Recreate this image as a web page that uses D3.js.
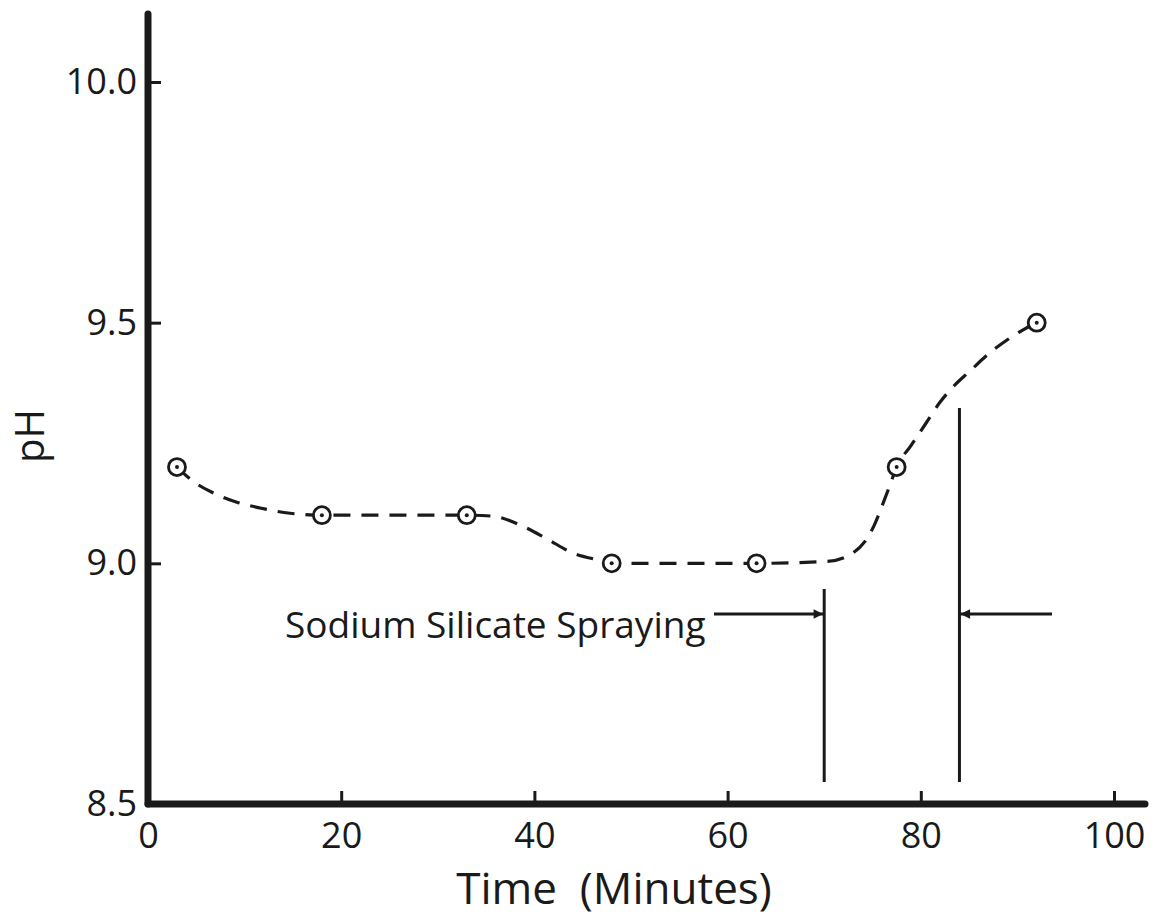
<!DOCTYPE html>
<html>
<head>
<meta charset="utf-8">
<title>pH vs Time</title>
<script src="https://d3js.org/d3.v7.min.js"></script>
<style>
  body { margin: 0; background: #fff; }
  svg text { font-family: "Open Sans", "Liberation Sans", sans-serif; fill: #1a1a1a; }
</style>
</head>
<body>
<script>
// measured readings (minutes, pH)
const times = [3, 18, 33, 48, 63, 77.5, 92];
const phValues = [9.2, 9.1, 9.1, 9.0, 9.0, 9.2, 9.5];
// hand-drawn dashed curve
const curveTimes = [3, 4.7, 6.7, 9.2, 11.6, 14.7, 18, 25, 33, 35.7, 38.7, 41.3, 43.9, 46.8, 48, 55, 63, 70.3, 73, 74.2, 75.2, 76.1, 76.8, 77.5, 79, 80.5, 82, 83.5, 85, 87, 89, 90.5, 92];
const curvePh = [9.2, 9.17, 9.147, 9.127, 9.115, 9.104, 9.1, 9.1, 9.1, 9.098, 9.078, 9.051, 9.022, 9.006, 9.0, 9.0, 9.0, 9.004, 9.022, 9.045, 9.08, 9.125, 9.162, 9.2, 9.245, 9.29, 9.335, 9.37, 9.398, 9.435, 9.465, 9.484, 9.5];
const xTicks = [0, 20, 40, 60, 80, 100];
const yTicks = [8.5, 9.0, 9.5, 10.0];
// spraying period
const sprayStart = 70;
const sprayEnd = 84;
const sprayLabel = "Sodium Silicate Spraying";

const width = 1157, height = 918;
const ink = "#1a1a1a";

const svg = d3.select("body").append("svg")
    .attr("width", width)
    .attr("height", height);

const x = d3.scaleLinear().domain([0, 100]).range([148, 1114]);
const y = d3.scaleLinear().domain([8.5, 10]).range([804, 82]);

// axes, ticks pointing inward
const xAxis = svg.append("g")
    .attr("transform", `translate(0,${y(8.5)})`)
    .call(d3.axisBottom(x).tickValues(xTicks).tickSize(-13).tickPadding(18).tickFormat(d3.format("d")));
xAxis.select(".domain").remove();
xAxis.selectAll(".tick line").attr("stroke", ink).attr("stroke-width", 3);
xAxis.selectAll(".tick text").attr("font-size", 36).attr("fill", ink);
xAxis.selectAll(".tick").filter(d => d === 0).select("line").remove();

const yAxis = svg.append("g")
    .attr("transform", `translate(${x(0)},0)`)
    .call(d3.axisLeft(y).tickValues(yTicks).tickSize(-13).tickPadding(11).tickFormat(d3.format(".1f")));
yAxis.select(".domain").remove();
yAxis.selectAll(".tick line").attr("stroke", ink).attr("stroke-width", 3);
yAxis.selectAll(".tick text").attr("font-size", 36).attr("fill", ink);
yAxis.selectAll(".tick").filter(d => d === 8.5).select("line").remove();

// heavy axis lines
svg.append("line")
    .attr("x1", x(0)).attr("x2", x(0))
    .attr("y1", 14).attr("y2", y(8.5))
    .attr("stroke", ink).attr("stroke-width", 7).attr("stroke-linecap", "round");
svg.append("line")
    .attr("x1", x(0)).attr("x2", 1145)
    .attr("y1", y(8.5)).attr("y2", y(8.5))
    .attr("stroke", ink).attr("stroke-width", 7).attr("stroke-linecap", "round");

// axis titles
svg.append("text")
    .attr("x", 614).attr("y", 904)
    .attr("text-anchor", "middle")
    .attr("font-size", 44)
    .attr("xml:space", "preserve")
    .text("Time  (Minutes)");

svg.append("text")
    .attr("transform", "translate(44,436) rotate(-90)")
    .attr("text-anchor", "middle")
    .attr("font-size", 40)
    .text("pH");

// dashed curve
const line = d3.line()
    .x(d => x(d[0]))
    .y(d => y(d[1]))
    .curve(d3.curveMonotoneX);

svg.append("path")
    .datum(curveTimes.map((t, i) => [t, curvePh[i]]))
    .attr("d", line)
    .attr("fill", "none")
    .attr("stroke", ink)
    .attr("stroke-width", 3.2)
    .attr("stroke-dasharray", "17 11");

// circled-dot markers
const marks = svg.append("g").selectAll("g")
    .data(times.map((t, i) => [t, phValues[i]]))
    .join("g")
    .attr("transform", d => `translate(${x(d[0])},${y(d[1])})`);
marks.append("circle")
    .attr("r", 8.5)
    .attr("fill", "#fff")
    .attr("stroke", ink)
    .attr("stroke-width", 2.8);
marks.append("circle")
    .attr("r", 2)
    .attr("fill", ink);

// spraying interval
svg.append("defs").append("marker")
    .attr("id", "arrow")
    .attr("viewBox", "0 0 10 10")
    .attr("refX", 10).attr("refY", 5)
    .attr("markerWidth", 6).attr("markerHeight", 3.2)
    .attr("markerUnits", "strokeWidth")
    .attr("orient", "auto")
    .append("path")
    .attr("d", "M0,0 L10,5 L0,10 Z")
    .attr("fill", ink);

svg.append("line")
    .attr("x1", x(sprayStart)).attr("x2", x(sprayStart))
    .attr("y1", 589).attr("y2", 782)
    .attr("stroke", ink).attr("stroke-width", 3);
svg.append("line")
    .attr("x1", x(sprayEnd)).attr("x2", x(sprayEnd))
    .attr("y1", 408).attr("y2", 782)
    .attr("stroke", ink).attr("stroke-width", 3);

svg.append("line")
    .attr("x1", 714).attr("x2", x(sprayStart) - 1)
    .attr("y1", 614).attr("y2", 614)
    .attr("stroke", ink).attr("stroke-width", 3)
    .attr("marker-end", "url(#arrow)");
svg.append("line")
    .attr("x1", 1052).attr("x2", x(sprayEnd) + 1)
    .attr("y1", 614).attr("y2", 614)
    .attr("stroke", ink).attr("stroke-width", 3)
    .attr("marker-end", "url(#arrow)");

svg.append("text")
    .attr("x", 285).attr("y", 638)
    .attr("font-size", 37)
    .text(sprayLabel);
</script>
</body>
</html>
